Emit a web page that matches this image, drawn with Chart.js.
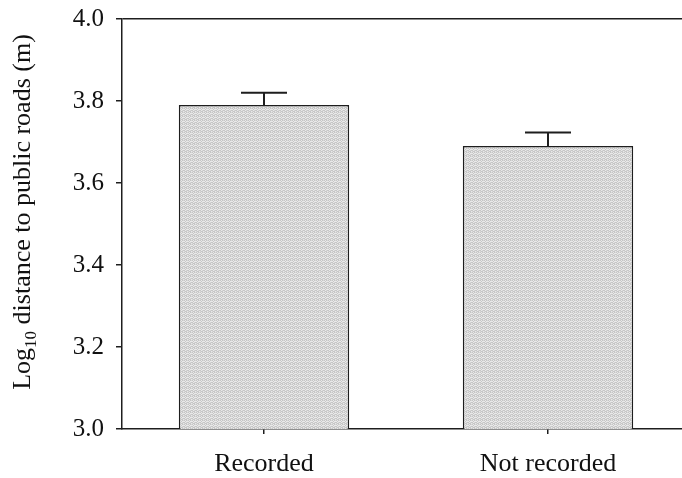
<!DOCTYPE html>
<html>
<head>
<meta charset="utf-8">
<script src="https://cdn.jsdelivr.net/npm/chart.js@4/dist/chart.umd.min.js"></script>
<style>
  html, body { margin: 0; padding: 0; overflow: hidden; background: #fff; }
  #wrap { width: 690px; height: 478px; }
</style>
</head>
<body>
<div id="wrap"><canvas id="c" width="690" height="478"></canvas></div>
<script>
// Mean log10 distance to public roads, with standard errors
const categories = ['Recorded', 'Not recorded'];
const meanLogDistance = [3.79, 3.69];
const standardError = [0.03, 0.033];
const yTicks = [3.0, 3.2, 3.4, 3.6, 3.8, 4.0];

const INK = '#1e1e1e';
const FONT = '"Liberation Serif", "Times New Roman", serif';

// Light grey stipple used as the bar fill
function stipplePattern() {
  const p = document.createElement('canvas');
  p.width = 4; p.height = 4;
  const g = p.getContext('2d');
  g.fillStyle = '#e9e9e9';
  g.fillRect(0, 0, 4, 4);
  g.fillStyle = '#c6c6c6';
  [[0, 0], [2, 0], [1, 1], [3, 2], [0, 2], [2, 3], [1, 3]].forEach(([x, y]) => g.fillRect(x, y, 1, 1));
  g.fillStyle = '#d6d6d6';
  [[3, 0], [2, 2], [0, 3]].forEach(([x, y]) => g.fillRect(x, y, 1, 1));
  return g.createPattern(p, 'repeat');
}

// Upward-only error bars with a cap
const errorBars = {
  id: 'errorBars',
  afterDatasetsDraw(chart) {
    const { ctx, scales: { y } } = chart;
    const meta = chart.getDatasetMeta(0);
    ctx.save();
    ctx.strokeStyle = INK;
    ctx.lineWidth = 2;
    meta.data.forEach((bar, i) => {
      const top = y.getPixelForValue(meanLogDistance[i] + standardError[i]);
      ctx.beginPath();
      ctx.moveTo(bar.x, bar.y);
      ctx.lineTo(bar.x, top);
      ctx.moveTo(bar.x - 23, top);
      ctx.lineTo(bar.x + 23, top);
      ctx.stroke();
    });
    ctx.restore();
  }
};

// Rotated y-axis title with a subscript "10"
const yTitle = {
  id: 'yTitle',
  afterDraw(chart) {
    const { ctx } = chart;
    const parts = [
      { t: 'Log', size: 26, dy: 0 },
      { t: '10', size: 17, dy: 6 },
      { t: ' distance to public roads (m)', size: 26, dy: 0 }
    ];
    ctx.save();
    let total = 0;
    parts.forEach(p => { ctx.font = p.size + 'px ' + FONT; p.w = ctx.measureText(p.t).width; total += p.w; });
    ctx.translate(30, 212);
    ctx.rotate(-Math.PI / 2);
    ctx.fillStyle = '#111';
    ctx.textBaseline = 'alphabetic';
    let x = -total / 2;
    parts.forEach(p => {
      ctx.font = p.size + 'px ' + FONT;
      ctx.fillText(p.t, x, p.dy);
      x += p.w;
    });
    ctx.restore();
  }
};

new Chart(document.getElementById('c'), {
  type: 'bar',
  data: {
    labels: categories,
    datasets: [{
      data: meanLogDistance,
      backgroundColor: stipplePattern(),
      borderColor: INK,
      borderWidth: 1.5,
      categoryPercentage: 1,
      barPercentage: 0.6
    }]
  },
  options: {
    responsive: false,
    animation: false,
    devicePixelRatio: 1,
    layout: { padding: { top: 19, right: 0, bottom: 0, left: 0 } },
    plugins: { legend: { display: false }, tooltip: { enabled: false }, title: { display: false } },
    scales: {
      x: {
        offset: true,
        grid: { display: true, drawOnChartArea: false, offset: false, tickLength: 5, color: INK, lineWidth: 1.5 },
        border: { display: true, color: INK, width: 1.5 },
        ticks: { color: '#111', font: { family: FONT, size: 26 }, padding: 15, maxRotation: 0 },
        afterFit(s) { s.height = 49; s.paddingLeft = 0; s.paddingRight = 0; }
      },
      y: {
        min: 3.0,
        max: 4.0,
        afterBuildTicks(s) { s.ticks = yTicks.map(v => ({ value: v })); },
        grid: {
          display: true,
          drawOnChartArea: true,
          tickLength: 6,
          color: ctx => (ctx.tick && ctx.tick.value === 4.0 ? INK : 'rgba(0,0,0,0)'),
          tickColor: INK,
          lineWidth: 1.5
        },
        border: { display: true, color: INK, width: 1.5 },
        ticks: {
          color: '#111',
          font: { family: FONT, size: 25 },
          padding: 12,
          callback: v => Number(v).toFixed(1)
        },
        afterFit(s) { s.width = 122; s.paddingTop = 0; s.paddingBottom = 0; }
      }
    }
  },
  plugins: [errorBars, yTitle]
});
</script>
</body>
</html>
